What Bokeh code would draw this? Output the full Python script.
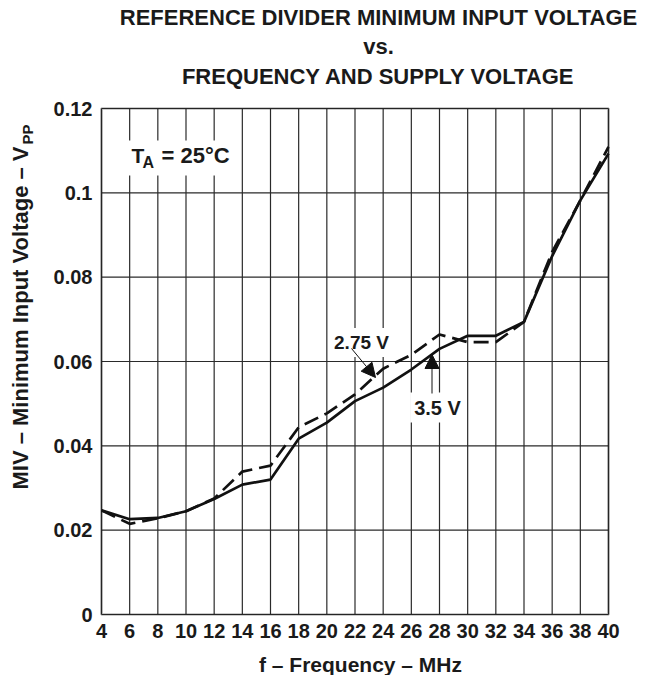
import math
from bokeh.plotting import figure
from bokeh.models import Label, Arrow, NormalHead, FixedTicker, Range1d, BoxAnnotation
from bokeh.embed import file_html
from bokeh.resources import INLINE

# ---- data ----
freq_mhz = [4, 6, 8, 10, 12, 14, 16, 18, 20, 22, 24, 26, 28, 30, 32, 34, 36, 38, 40]
miv_3v5 = [0.0247, 0.0226, 0.0229, 0.0245, 0.0274, 0.0308, 0.0320, 0.0417, 0.0455,
           0.0506, 0.0538, 0.0581, 0.0630, 0.0661, 0.0661, 0.0694, 0.0850, 0.0982, 0.1093]
miv_2v75 = [0.0247, 0.0215, 0.0228, 0.0245, 0.0275, 0.0339, 0.0353, 0.0444, 0.0477,
            0.0522, 0.0583, 0.0616, 0.0664, 0.0646, 0.0646, 0.0694, 0.0860, 0.0982, 0.1109]
x_ticks = list(range(4, 41, 2))
y_ticks = [0, 0.02, 0.04, 0.06, 0.08, 0.10, 0.12]
y_tick_labels = ["0", "0.02", "0.04", "0.06", "0.08", "0.1", "0.12"]

title_lines = ["REFERENCE DIVIDER MINIMUM INPUT VOLTAGE", "vs.", "FREQUENCY AND SUPPLY VOLTAGE"]
x_label = "f \u2013 Frequency \u2013 MHz"
y_label_main = "MIV \u2013 Minimum Input Voltage \u2013 V"
y_label_sub = "PP"

FONT = "Liberation Sans"
INK = "#1a1a1a"

# ---- canvas geometry (pixels) ----
W, H = 645, 675
GL, GR, GT, GB = 101, 608, 108, 614          # chart box edges on the canvas
XMIN, XMAX = x_ticks[0], x_ticks[-1]
YMIN, YMAX = y_ticks[0], y_ticks[-1]
sx = (GR - GL) / (XMAX - XMIN)
sy = (GB - GT) / (YMAX - YMIN)


def px_to_x(px):
    return XMIN + (px - GL) / sx


def py_to_y(py):
    return YMIN + (GB - py) / sy


p = figure(width=W, height=H, min_border=0,
           x_range=Range1d(px_to_x(0), px_to_x(W)),
           y_range=Range1d(py_to_y(H), py_to_y(0)),
           output_backend="svg", toolbar_location=None)

p.background_fill_color = "white"
p.border_fill_color = "white"
p.outline_line_color = None
p.xgrid.visible = False
p.ygrid.visible = False

for ax in (p.xaxis[0], p.yaxis[0]):
    ax.axis_line_color = None
    ax.major_tick_line_color = None
    ax.minor_tick_line_color = None
    ax.major_tick_out = 0
    ax.major_tick_in = 0
    ax.minor_tick_out = 0
    ax.minor_tick_in = 0
    ax.major_label_text_font = FONT
    ax.major_label_text_font_style = "bold"
    ax.major_label_text_font_size = "20px"
    ax.major_label_text_color = INK

p.xaxis.ticker = FixedTicker(ticks=x_ticks)
p.yaxis.ticker = FixedTicker(ticks=y_ticks)
p.yaxis.major_label_overrides = {t: l for t, l in zip(y_ticks, y_tick_labels)}
p.xaxis.fixed_location = YMIN
p.yaxis.fixed_location = XMIN
p.xaxis.major_label_standoff = 9
p.yaxis.major_label_standoff = 9

# grid lines drawn from the tick arrays
p.segment(x0=x_ticks, y0=[YMIN] * len(x_ticks), x1=x_ticks, y1=[YMAX] * len(x_ticks),
          line_color="#2a2a2a", line_width=1.2)
p.segment(x0=[XMIN] * len(y_ticks), y0=y_ticks, x1=[XMAX] * len(y_ticks), y1=y_ticks,
          line_color="#2a2a2a", line_width=1.2)

# curves
p.line(freq_mhz, miv_3v5, line_color="#111111", line_width=2.7)
p.line(freq_mhz, miv_2v75, line_color="#111111", line_width=2.7, line_dash="15 7")

# chart outline
p.add_layout(BoxAnnotation(left=XMIN, right=XMAX, bottom=YMIN, top=YMAX,
                           fill_alpha=0, line_color=INK, line_width=2.6))


def txt(x, y, text, size="21px", align="center", baseline="middle", angle=0, bg=None, pad=0):
    lab = Label(x=x, y=y, text=text, text_font=FONT, text_font_style="bold",
                text_font_size=size, text_color=INK, text_align=align,
                text_baseline=baseline, angle=angle)
    if bg is not None:
        lab.background_fill_color = bg
        lab.padding = pad
    p.add_layout(lab)
    return lab


# title
txt(px_to_x(378), py_to_y(17), title_lines[0], size="22px")
txt(px_to_x(378), py_to_y(46), title_lines[1], size="22px")
txt(px_to_x(378), py_to_y(76), title_lines[2], size="22px")

# axis labels
txt(px_to_x(360), py_to_y(664), x_label)
txt(px_to_x(20), py_to_y(146), y_label_main, size="22px", align="right", angle=math.pi / 2)
txt(px_to_x(27), py_to_y(144), y_label_sub, size="15px", align="left", angle=math.pi / 2)

# T_A = 25 C  (white patch behind it, as in the reference)
p.add_layout(BoxAnnotation(left=px_to_x(122), right=px_to_x(234),
                           top=py_to_y(140), bottom=py_to_y(175),
                           fill_color="white", fill_alpha=1, line_color=None))
txt(px_to_x(131), py_to_y(155), "T", size="21px", align="left")
txt(px_to_x(142), py_to_y(162), "A", size="16px", align="left")
txt(px_to_x(161), py_to_y(155), "= 25\u00b0C", size="22px", align="left")

# series labels
txt(px_to_x(361), py_to_y(342), "2.75 V", size="19px", bg="white", pad=4)
txt(px_to_x(437), py_to_y(407), "3.5 V", size="20px", bg="white", pad=4)

p.add_layout(Arrow(x_start=px_to_x(351), y_start=py_to_y(348),
                   x_end=px_to_x(375), y_end=py_to_y(377),
                   line_color="#111111", line_width=1,
                   end=NormalHead(size=14, fill_color="#111111", line_color="#111111")))
p.add_layout(Arrow(x_start=px_to_x(431.5), y_start=py_to_y(393),
                   x_end=px_to_x(431.5), y_end=py_to_y(354),
                   line_color="#111111", line_width=1,
                   end=NormalHead(size=14, fill_color="#111111", line_color="#111111")))

open("out.html", "w").write(file_html(p, INLINE))
